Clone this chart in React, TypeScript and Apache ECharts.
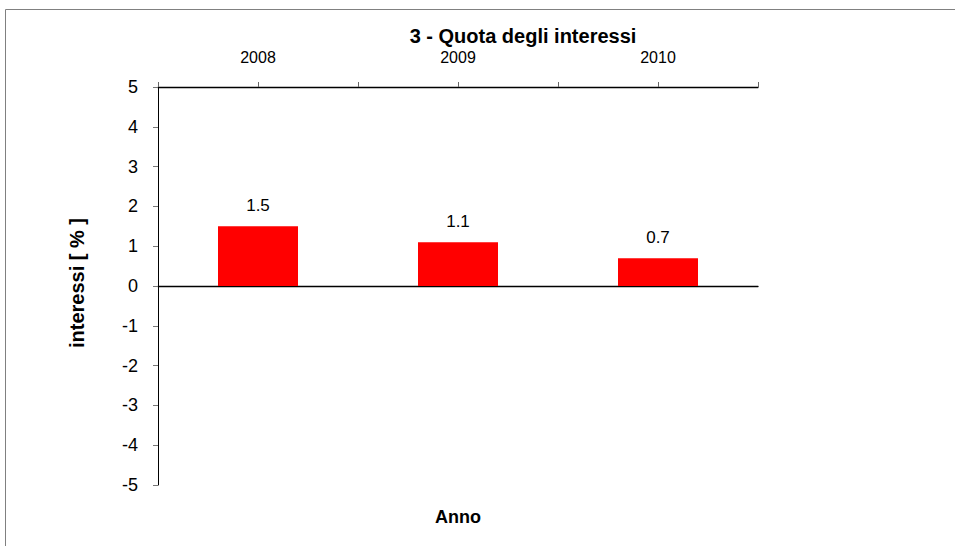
import React, { useEffect, useRef } from "react";
import * as echarts from "echarts";

const years = ["2008", "2009", "2010"];
const interessi = [1.5, 1.1, 0.7];
const yMin = -5;
const yMax = 5;
const yStep = 1;
const titleText = "3 - Quota degli interessi";
const xName = "Anno";
const yName = "interessi [ % ]";

const FONT = '"Liberation Sans", Arial, sans-serif';

export default function App() {
  const ref = useRef<HTMLDivElement>(null);
  useEffect(() => {
    if (!ref.current) return;
    const chart = echarts.init(ref.current, undefined, { renderer: "svg" });
    chart.setOption({
      animation: false,
      backgroundColor: "#ffffff",
      textStyle: { fontFamily: FONT },
      grid: { left: 158, right: 197, top: 87, bottom: 61, containLabel: false },
      xAxis: [
        {
          type: "category",
          data: years,
          position: "top",
          boundaryGap: true,
          axisLine: { show: true, onZero: false, lineStyle: { color: "#000", width: 1.3 } },
          axisTick: { show: true, inside: false, length: 5, lineStyle: { color: "#666" } },
          axisLabel: { show: true, fontSize: 16, color: "#000", margin: 22, fontFamily: FONT },
          splitLine: { show: false },
        },
        {
          type: "category",
          data: years,
          position: "top",
          boundaryGap: true,
          axisLine: { show: false, onZero: false },
          axisTick: { show: true, alignWithLabel: true, inside: false, length: 5, lineStyle: { color: "#666" } },
          axisLabel: { show: false },
          splitLine: { show: false },
        },
        {
          type: "category",
          data: years,
          position: "bottom",
          boundaryGap: true,
          axisLine: { show: true, onZero: true, lineStyle: { color: "#000", width: 1.3 } },
          axisTick: { show: false },
          axisLabel: { show: false },
          splitLine: { show: false },
        },
      ],
      yAxis: {
        type: "value",
        min: yMin,
        max: yMax,
        interval: yStep,
        axisLine: { show: true, lineStyle: { color: "#000", width: 1 } },
        axisTick: { show: true, inside: false, length: 5, lineStyle: { color: "#777" } },
        axisLabel: { fontSize: 18, color: "#000", margin: 20, fontFamily: FONT },
        splitLine: { show: false },
      },
      series: [
        {
          type: "bar",
          xAxisIndex: 0,
          data: interessi,
          barWidth: "40%",
          itemStyle: { color: "#ff0000" },
          label: {
            show: true,
            position: "top",
            distance: 12,
            fontSize: 17,
            color: "#000",
            fontFamily: FONT,
            formatter: (p: any) => Number(p.value).toFixed(1),
          },
        },
      ],
      graphic: [
        {
          type: "rect",
          shape: { x: 5.5, y: 9.5, width: 1200, height: 800 },
          style: { fill: "none", stroke: "#808080", lineWidth: 1 },
          silent: true,
        },
        {
          type: "text",
          x: 523,
          y: 36,
          style: {
            text: titleText,
            font: `bold 20px ${FONT}`,
            fill: "#000",
            textAlign: "center",
            textVerticalAlign: "middle",
          },
        },
        {
          type: "text",
          x: 458,
          y: 517,
          style: {
            text: xName,
            font: `bold 18px ${FONT}`,
            fill: "#000",
            textAlign: "center",
            textVerticalAlign: "middle",
          },
        },
        {
          type: "text",
          x: 77,
          y: 283,
          rotation: Math.PI / 2,
          style: {
            text: yName,
            font: `bold 20px ${FONT}`,
            fill: "#000",
            textAlign: "center",
            textVerticalAlign: "middle",
          },
        },
      ],
    });
    return () => chart.dispose();
  }, []);
  return (
    <div
      ref={ref}
      style={{ position: "fixed", left: 0, top: 0, width: 955, height: 546 }}
    />
  );
}
